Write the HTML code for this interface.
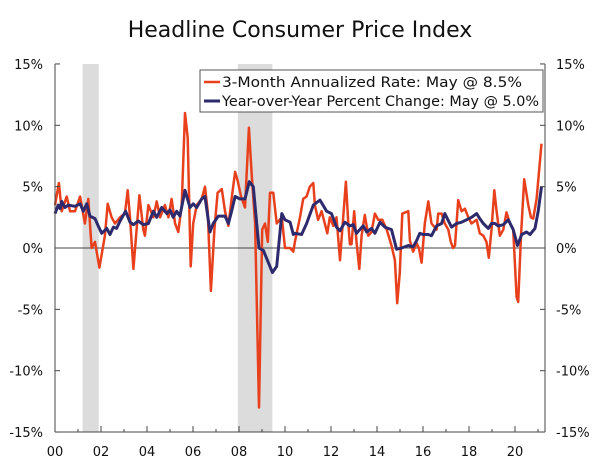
<!DOCTYPE html>
<html><head><meta charset="utf-8"><style>
body{margin:0;background:#fff;}
svg text{font-family:"DejaVu Sans","Liberation Sans",sans-serif;fill:#111;}
</style></head><body>
<svg id="chart" width="600" height="460" xmlns="http://www.w3.org/2000/svg">
<text x="300" y="37" text-anchor="middle" font-size="22">Headline Consumer Price Index</text>
<g id="rec"></g><g id="grid"></g><g id="series"></g><g id="axes"></g>
<g>
<rect x="200" y="70" width="343" height="42" fill="#fff" stroke="#555" stroke-width="1"/>
<line x1="204" y1="82" x2="220" y2="82" stroke="#e8401c" stroke-width="2.5"/>
<text x="222" y="87" font-size="14" textLength="300" lengthAdjust="spacingAndGlyphs">3-Month Annualized Rate: May @ 8.5%</text>
<line x1="204" y1="101" x2="220" y2="101" stroke="#2e2a6e" stroke-width="3"/>
<text x="222" y="106" font-size="14" textLength="317" lengthAdjust="spacingAndGlyphs">Year-over-Year Percent Change: May @ 5.0%</text>
</g>
</svg>
<script>
const redDates=[0,0.17,0.29,0.51,0.65,0.87,1.09,1.30,1.45,1.59,1.74,1.93,2.17,2.29,2.46,2.61,2.83,3.04,3.16,3.26,3.41,3.55,3.67,3.84,3.91,4.06,4.28,4.42,4.57,4.78,4.93,5.07,5.22,5.36,5.51,5.65,5.77,5.90,6.01,6.16,6.38,6.52,6.64,6.78,6.93,7.07,7.25,7.39,7.54,7.68,7.83,7.94,8.09,8.26,8.43,8.55,8.70,8.87,9.01,9.13,9.25,9.35,9.49,9.64,9.86,10.0,10.22,10.36,10.43,10.65,10.79,10.94,11.08,11.23,11.30,11.44,11.59,11.73,11.84,11.95,12.10,12.24,12.39,12.53,12.65,12.75,12.82,12.89,13.01,13.11,13.23,13.33,13.47,13.62,13.76,13.91,14.05,14.23,14.42,14.63,14.78,14.88,14.99,15.10,15.36,15.43,15.57,15.72,15.82,15.94,16.08,16.23,16.37,16.59,16.66,16.81,16.95,17.10,17.21,17.31,17.39,17.53,17.68,17.82,17.97,18.11,18.33,18.47,18.62,18.76,18.86,18.98,19.10,19.20,19.34,19.49,19.63,19.78,19.92,20.07,20.14,20.26,20.40,20.58,20.69,20.79,20.94,21.15];
const redValues=[3.5,5.3,3.0,4.2,3.0,3.0,4.2,2.0,4.0,0.0,0.5,-1.6,1.0,3.6,2.5,2.0,2.5,2.8,4.7,2.5,-1.7,1.5,4.3,1.5,1.0,3.5,2.5,3.8,2.5,3.5,2.5,4.0,2.0,1.3,3.5,11.0,9.0,-1.5,2.0,3.5,4.0,5.0,3.0,-3.5,1.5,4.5,4.8,3.0,1.8,4.0,6.2,5.5,4.2,3.3,9.8,6.0,2.0,-13.0,1.5,2.0,0.5,4.5,4.5,2.0,2.5,0.0,0.0,-0.3,0.5,2.5,4.0,4.2,5.0,5.3,3.5,2.3,3.0,2.0,1.2,2.5,1.8,2.5,-1.0,2.5,5.4,2.0,0.3,0.3,3.0,0.5,-1.7,1.0,2.7,1.0,1.3,2.8,2.3,2.3,1.5,0.2,-1.0,-4.5,-2.0,2.8,3.0,0.6,-0.3,0.4,0,-1.2,2.0,3.8,2.0,1.5,2.8,2.8,2.0,1.5,0.5,0.0,0.2,3.9,3.0,3.2,2.5,2.0,2.3,1.2,1.0,0.5,-0.8,1.5,4.7,3.0,1.0,1.5,2.9,2.0,1.5,-4.0,-4.4,1.0,5.6,3.5,2.5,2.4,4.0,8.5];
const blueDates=[0,0.14,0.22,0.29,0.43,0.58,0.87,1.09,1.23,1.38,1.52,1.74,1.88,2.03,2.25,2.39,2.54,2.68,2.83,3.07,3.26,3.41,3.62,3.84,4.06,4.28,4.42,4.64,4.86,5.0,5.14,5.29,5.43,5.65,5.87,6.01,6.16,6.38,6.52,6.67,6.74,6.88,7.10,7.25,7.39,7.54,7.68,7.83,8.04,8.26,8.45,8.62,8.77,8.87,9.06,9.28,9.45,9.64,9.86,10.0,10.22,10.36,10.43,10.72,10.94,11.23,11.52,11.81,12.02,12.24,12.39,12.60,12.82,12.97,13.11,13.40,13.55,13.76,13.91,14.13,14.34,14.63,14.85,15.07,15.36,15.57,15.72,15.86,16.01,16.23,16.37,16.59,16.81,16.95,17.24,17.46,17.68,17.89,18.11,18.33,18.47,18.62,18.84,18.98,19.13,19.27,19.49,19.71,19.92,20.11,20.29,20.50,20.65,20.87,21.01,21.15];
const blueValues=[2.8,3.5,3.2,3.8,3.3,3.5,3.4,3.6,3.0,3.6,2.6,2.4,1.8,1.2,1.6,1.1,1.7,1.6,2.2,3.0,2.1,1.9,2.2,1.9,2.0,3.0,2.5,3.3,2.8,3.1,2.5,3.0,2.6,4.7,3.3,3.6,3.3,4.0,4.2,2.2,1.3,2.0,2.6,2.6,2.6,2.0,3.0,4.2,4.0,4.0,5.4,5.0,2.0,0.0,-0.2,-1.2,-2.0,-1.5,2.8,2.3,2.1,1.1,1.2,1.1,2.0,3.5,3.9,3.0,2.8,1.7,1.4,2.1,1.8,1.9,1.2,1.8,1.3,1.6,1.2,2.1,1.7,1.5,-0.1,0,0.2,0.1,0.6,1.2,1.1,1.1,1.0,1.8,2.0,2.8,1.7,2.0,2.1,2.3,2.5,2.8,2.4,2.0,1.6,2.0,2.0,1.8,1.9,2.3,1.5,0.2,1.1,1.3,1.1,1.6,3.0,5.0];
const yTicks=[15,10,5,0,-5,-10,-15];
const xTickLabels=["00","02","04","06","08","10","12","14","16","18","20"];
const recessions=[[2001.2,2001.9],[2007.95,2009.45]];

const NS="http://www.w3.org/2000/svg";
const X0=55,X1=545,Y0=64,Y1=432;
const xs=y=>X0+(y)*23;
const ys=v=>248-v*12.27;
function mk(tag,attrs,parent){const e=document.createElementNS(NS,tag);for(const k in attrs)e.setAttribute(k,attrs[k]);parent.appendChild(e);return e;}
const rec=document.getElementById('rec'),axes=document.getElementById('axes'),series=document.getElementById('series'),grid=document.getElementById('grid');
recessions.forEach(r=>{const e=mk('rect',{x:xs(r[0]-2000),y:Y0,width:xs(r[1]-2000)-xs(r[0]-2000),height:Y1-Y0,fill:'#dcdcdc'},rec);

});
const z=mk('line',{x1:X0,x2:X1,y1:ys(0),y2:ys(0),stroke:'#444','stroke-width':1},grid);


function path(d,v,color,w,name){let s='';d.forEach((t,i)=>{s+=(i?'L':'M')+xs(t).toFixed(1)+','+ys(v[i]).toFixed(1);});
const p=mk('path',{d:s,fill:'none',stroke:color,'stroke-width':w,'stroke-linejoin':'round'},series);

}
path(redDates,redValues,'#e8401c',2.5,'line-3-month-annualized');
path(blueDates,blueValues,'#2e2a6e',3,'line-year-over-year');
mk('line',{x1:X0,x2:X0,y1:Y0,y2:Y1,stroke:'#444'},axes);
mk('line',{x1:X1,x2:X1,y1:Y0,y2:Y1,stroke:'#444'},axes);
mk('line',{x1:X0,x2:X1,y1:Y1,y2:Y1,stroke:'#444'},axes);
yTicks.forEach(t=>{const y=ys(t);
mk('line',{x1:X0,x2:X0+5,y1:y,y2:y,stroke:'#444'},axes);
mk('line',{x1:X1-5,x2:X1,y1:y,y2:y,stroke:'#444'},axes);
const a=mk('text',{x:43,y:y+5,'text-anchor':'end','font-size':13},axes);a.textContent=t+'%';


const b=mk('text',{x:556,y:y+5,'font-size':13},axes);b.textContent=t+'%';

});
for(let yr=0;yr<=21;yr++){mk('line',{x1:xs(yr),x2:xs(yr),y1:Y1,y2:Y1-(yr%2?3:6),stroke:'#444'},axes);}
xTickLabels.forEach((l,i)=>{const t=mk('text',{x:xs(i*2),y:456,'text-anchor':'middle','font-size':13},axes);t.textContent=l;

});
</script>
</body></html>
